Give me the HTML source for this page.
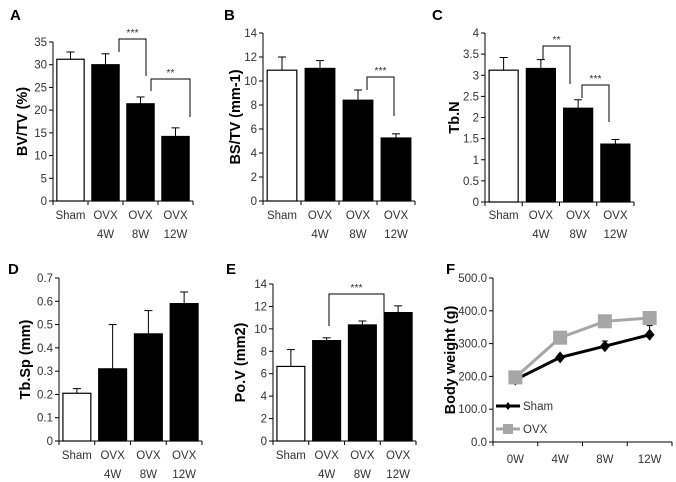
<!DOCTYPE html>
<html><head><meta charset="utf-8"><style>
body{margin:0;background:#fff;}
svg{display:block;font-family:"Liberation Sans",sans-serif;}
.tk{font-size:11.5px;fill:#333;}
.pl{font-size:15px;font-weight:bold;fill:#000;}
.yt{font-size:14.5px;font-weight:bold;fill:#000;}
.st{font-size:10.5px;fill:#333;}
</style></head><body>
<svg id="fig" width="676" height="482" viewBox="0 0 676 482"></svg>
<script>
const barCats = ["Sham","OVX\n4W","OVX\n8W","OVX\n12W"];
const aVals = [31.2, 30.0, 21.4, 14.2];
const aErr  = [32.8, 32.4, 22.9, 16.1];
const aTicks = [0,5,10,15,20,25,30,35];
const bVals = [10.9, 11.05, 8.4, 5.25];
const bErr  = [12.0, 11.7, 9.25, 5.6];
const bTicks = [0,2,4,6,8,10,12,14];
const cVals = [3.12, 3.16, 2.22, 1.37];
const cErr  = [3.42, 3.37, 2.42, 1.48];
const cTicks = [0,0.5,1,1.5,2,2.5,3,3.5,4];
const dVals = [0.205, 0.31, 0.46, 0.59];
const dErr  = [0.225, 0.50, 0.56, 0.64];
const dTicks = [0,0.1,0.2,0.3,0.4,0.5,0.6,0.7];
const eVals = [6.65, 8.95, 10.35, 11.45];
const eErr  = [8.15, 9.2, 10.7, 12.05];
const eTicks = [0,2,4,6,8,10,12,14];
const fCats = ["0W","4W","8W","12W"];
const fSham = [190, 258, 292, 327];
const fShamErr = [180, 263, 308, 355];
const fOvx = [197, 318, 368, 378];
const fOvxErr = [205, 322, 372, 397];
const fTicks = [0,100,200,300,400,500];

const NS="http://www.w3.org/2000/svg";
const svg=document.getElementById('fig');
function mk(tag,attrs,parent,text){const e=document.createElementNS(NS,tag);for(const k in attrs)e.setAttribute(k,attrs[k]);if(text!==undefined)e.textContent=text;(parent||svg).appendChild(e);return e;}

function barPanel(cfg){
  const g=mk('g',{});
  
  
  const ymax=cfg.ticks[cfg.ticks.length-1];
  const y=v=>cfg.y0-(v/ymax)*(cfg.y0-cfg.ytop);
  const cw=(cfg.x1-cfg.x0)/barCats.length;
  const lab=mk('text',{x:cfg.lx,y:cfg.ly,class:'pl'},g,cfg.id.toUpperCase());
  
  
  const yt=mk('text',{x:cfg.tx,y:(cfg.y0+cfg.ytop)/2,class:'yt','text-anchor':'middle',transform:`rotate(-90 ${cfg.tx} ${(cfg.y0+cfg.ytop)/2})`},g,cfg.title);
  
  
  mk('line',{x1:cfg.x0,y1:cfg.ytop,x2:cfg.x0,y2:cfg.y0,stroke:'#000'},g);
  mk('line',{x1:cfg.x0,y1:cfg.y0,x2:cfg.x1,y2:cfg.y0,stroke:'#000'},g);
  cfg.ticks.forEach(t=>{
    mk('line',{x1:cfg.x0-4,y1:y(t),x2:cfg.x0,y2:y(t),stroke:'#000'},g);
    const tl=mk('text',{x:cfg.x0-6,y:y(t)+4,class:'tk','text-anchor':'end'},g,String(t));
    
    
  });
  for(let i=0;i<=barCats.length;i++) mk('line',{x1:cfg.x0+i*cw,y1:cfg.y0,x2:cfg.x0+i*cw,y2:cfg.y0+4,stroke:'#000'},g);
  barCats.forEach((c,i)=>{
    const bx=cfg.x0+i*cw+cw*0.11, bw=cw*0.78, cx=bx+bw/2;
    mk('line',{x1:cx,y1:y(cfg.err[i]),x2:cx,y2:y(cfg.vals[i]),stroke:'#000'},g);
    mk('line',{x1:cx-4,y1:y(cfg.err[i]),x2:cx+4,y2:y(cfg.err[i]),stroke:'#000'},g);
    const r=mk('rect',{x:bx,y:y(cfg.vals[i]),width:bw,height:cfg.y0-y(cfg.vals[i]),fill:i==0?'#fff':'#000',stroke:'#000','stroke-width':1.2},g);
    
    
    c.split('\n').forEach((ln,k)=>{
      const tl=mk('text',{x:cfg.x0+(i+0.5)*cw,y:cfg.labY+k*19,class:'tk','text-anchor':'middle'},g,ln);
      
      
    });
  });
  (cfg.brackets||[]).forEach(b=>{
    const xa=b.xa, xb=b.xb;
    mk('polyline',{points:`${xa},${b.ya} ${xa},${b.top} ${xb},${b.top} ${xb},${b.yb}`,fill:'none',stroke:'#000'},g);
    const s=mk('text',{x:(xa+xb)/2,y:b.top-3,class:'st','text-anchor':'middle'},g,b.s);
    
    
  });
}
barPanel({id:'a',title:'BV/TV (%)',vals:aVals,err:aErr,ticks:aTicks,x0:53,x1:193,y0:201,ytop:42,lx:10,ly:20,tx:27,labY:219,
  brackets:[{xa:119,xb:146,top:39,ya:52,yb:76,s:'***'},{xa:151,xb:190,top:79,ya:91,yb:117,s:'**'}]});
barPanel({id:'b',title:'BS/TV (mm-1)',vals:bVals,err:bErr,ticks:bTicks,x0:263,x1:415,y0:201,ytop:33,lx:224,ly:20,tx:240,labY:219,
  brackets:[{xa:367,xb:394,top:77,ya:90,yb:116,s:'***'}]});
barPanel({id:'c',title:'Tb.N',vals:cVals,err:cErr,ticks:cTicks,x0:485,x1:634,y0:202,ytop:33,lx:432,ly:20,tx:459,labY:219,
  brackets:[{xa:543,xb:570,top:46,ya:60,yb:84,s:'**'},{xa:582,xb:609,top:85,ya:98,yb:122,s:'***'}]});
barPanel({id:'d',title:'Tb.Sp (mm)',vals:dVals,err:dErr,ticks:dTicks,x0:59,x1:202,y0:441,ytop:278,lx:8,ly:274,tx:30,labY:459,brackets:[]});
barPanel({id:'e',title:'Po.V (mm2)',vals:eVals,err:eErr,ticks:eTicks,x0:273,x1:416,y0:441,ytop:284,lx:226,ly:274,tx:245,labY:459,
  brackets:[{xa:329,xb:384,top:294,ya:326,yb:313,s:'***'}]});

// Panel F
(function(){
  const g=mk('g',{});
  
  
  const x0=493,x1=672,y0=442,ytop=278;
  const y=v=>y0-(v/500)*(y0-ytop);
  const cw=(x1-x0)/fCats.length;
  const x=i=>x0+(i+0.5)*cw;
  const lab=mk('text',{x:446,y:274,class:'pl'},g,'F');
  
  
  const cy=(y0+ytop)/2;
  const yt=mk('text',{x:455,y:cy,class:'yt','text-anchor':'middle',transform:`rotate(-90 455 ${cy})`},g,'Body weight (g)');
  
  
  mk('line',{x1:x0,y1:ytop,x2:x0,y2:y0,stroke:'#000'},g);
  mk('line',{x1:x0,y1:y0,x2:x1,y2:y0,stroke:'#000'},g);
  fTicks.forEach(t=>{
    mk('line',{x1:x0-4,y1:y(t),x2:x0,y2:y(t),stroke:'#000'},g);
    const tl=mk('text',{x:x0-6,y:y(t)+4,class:'tk','text-anchor':'end'},g,t.toFixed(1));
    
    
  });
  for(let i=0;i<=fCats.length;i++) mk('line',{x1:x0+i*cw,y1:y0,x2:x0+i*cw,y2:y0+4,stroke:'#000'},g);
  fCats.forEach((c,i)=>{
    const tl=mk('text',{x:x(i),y:463,class:'tk','text-anchor':'middle'},g,c);
    
    
  });
  function series(vals,errs,color,marker,name){
    errs.forEach((e,i)=>{mk('line',{x1:x(i),y1:y(e),x2:x(i),y2:y(vals[i]),stroke:color},g);mk('line',{x1:x(i)-3,y1:y(e),x2:x(i)+3,y2:y(e),stroke:color},g);});
    const l=mk('polyline',{points:vals.map((v,i)=>x(i)+','+y(v)).join(' '),fill:'none',stroke:color,'stroke-width':3},g);
    
    
    vals.forEach((v,i)=>{
      let m;
      if(marker==='sq') m=mk('rect',{x:x(i)-7,y:y(v)-7,width:14,height:14,fill:color},g);
      else m=mk('polygon',{points:`${x(i)},${y(v)-6} ${x(i)+5},${y(v)} ${x(i)},${y(v)+6} ${x(i)-5},${y(v)}`,fill:color},g);
      
      
    });
  }
  series(fSham,fShamErr,'#000','di','sham');
  series(fOvx,fOvxErr,'#a6a6a6','sq','ovx');
  const lg=mk('g',{},g);
  
  
  mk('line',{x1:496,y1:406,x2:520,y2:406,stroke:'#000','stroke-width':3},lg);
  mk('polygon',{points:'508,402 511,406 508,410 505,406',fill:'#000'},lg);
  mk('text',{x:523,y:410,class:'tk'},lg,'Sham');
  mk('line',{x1:496,y1:429,x2:520,y2:429,stroke:'#a6a6a6','stroke-width':3},lg);
  mk('rect',{x:503,y:424,width:10,height:10,fill:'#a6a6a6'},lg);
  mk('text',{x:523,y:433,class:'tk'},lg,'OVX');
})();
</script>
</body></html>
